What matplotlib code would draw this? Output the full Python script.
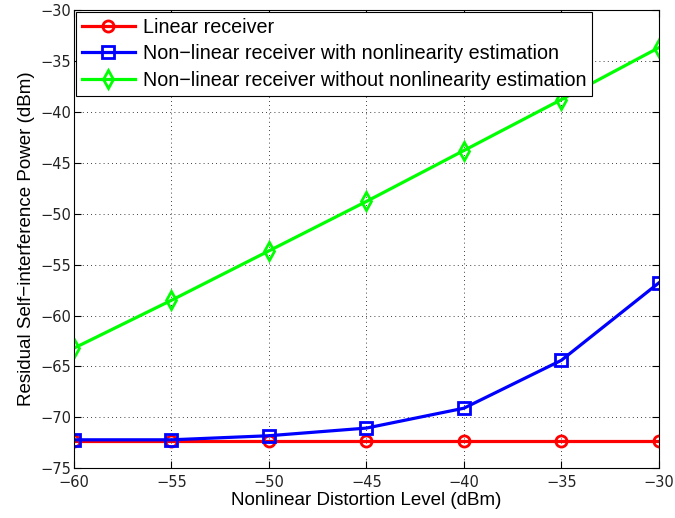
import matplotlib
matplotlib.use('Agg')
import matplotlib.pyplot as plt

plt.rcParams['font.family'] = ['Liberation Sans', 'DejaVu Sans']

# distortion levels (dBm)
x = [-60, -55, -50, -45, -40, -35, -30]

linear_rx = [-72.3, -72.3, -72.3, -72.3, -72.3, -72.3, -72.3]
nl_with_est = [-72.2, -72.2, -71.8, -71.05, -69.1, -64.4, -56.8]
nl_without_est = [-63.2, -58.5, -53.65, -48.8, -43.8, -38.8, -33.7]

labels = ['Linear receiver',
          'Non\u2212linear receiver with nonlinearity estimation',
          'Non\u2212linear receiver without nonlinearity estimation']

fig = plt.figure(figsize=(6.75, 5.18), dpi=100)
ax = fig.add_axes([0.1096, 0.0959, 0.8663, 0.8848])

ax.plot(x, linear_rx, color='red', lw=2.3, marker='o', ms=8, mfc='none', mew=2, label=labels[0])
ax.plot(x, nl_with_est, color='blue', lw=2.3, marker='s', ms=8, mfc='none', mew=2, label=labels[1])
ax.plot(x, nl_without_est, color='#00ff00', lw=2.3, marker='d', ms=9, mfc='none', mew=2, label=labels[2])

ax.set_xlim(-60, -30)
ax.set_ylim(-75, -30)
ax.set_xticks(range(-60, -29, 5))
ax.set_yticks(range(-75, -29, 5))
ax.grid(True, color='black', linestyle=(0, (1, 4)), lw=0.6)
ax.tick_params(direction='in', top=True, right=True, length=5)
ax.tick_params(axis='x', pad=5)
ax.tick_params(axis='y', pad=2)
for lab in ax.get_xticklabels() + ax.get_yticklabels():
    lab.set_family('DejaVu Sans')
    lab.set_fontsize(10.5)
    lab.set_color('#222222')
for s in ax.spines.values():
    s.set_linewidth(0.8)

ax.set_xlabel('Nonlinear Distortion Level (dBm)', fontsize=13.5, labelpad=1)
ax.set_ylabel('Residual Self\u2212interference Power (dBm)', fontsize=13.5, labelpad=4)

leg = ax.legend(loc='upper left', fontsize=14.2, fancybox=False, edgecolor='black',
                framealpha=1, borderaxespad=0.1, handlelength=2.7, borderpad=0.3,
                labelspacing=0.38, handletextpad=0.4)
leg.get_frame().set_linewidth(0.8)

fig.savefig('out.png', dpi=100)
